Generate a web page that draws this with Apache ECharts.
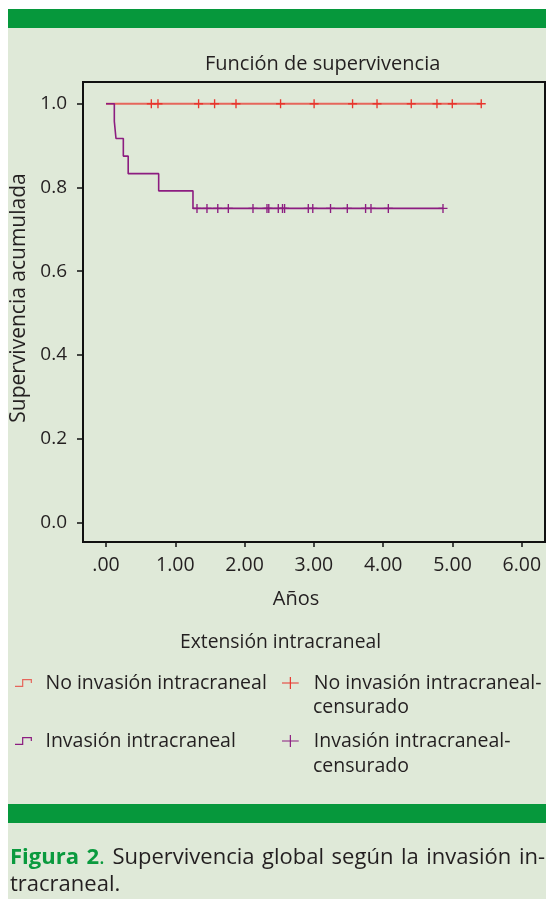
<!DOCTYPE html>
<html><head><meta charset="utf-8">
<script src="https://cdn.jsdelivr.net/npm/echarts@6/dist/echarts.min.js"></script>
<style>html,body{margin:0;padding:0;background:#fff}#c{width:546px;height:899px}</style>
</head><body><div id="c"></div>
<script>
// ---- data ----
const xTicks = [0, 1, 2, 3, 4, 5, 6];
const xTickLabels = ['.00', '1.00', '2.00', '3.00', '4.00', '5.00', '6.00'];
const yTicks = [0, 0.2, 0.4, 0.6, 0.8, 1.0];
const yTickLabels = ['0.0', '0.2', '0.4', '0.6', '0.8', '1.0'];

const noInvStepX = [0, 5.415];
const noInvStepY = [1.0, 1.0];
const noInvCensX = [0.654, 0.750, 1.336, 1.567, 1.876, 2.519, 3.003, 3.558, 3.911, 4.405, 4.776, 4.997, 5.415];

const invStepX = [0, 0.120, 0.144, 0.250, 0.320, 0.760, 1.255, 4.863];
const invStepY = [1.0, 0.958, 0.917, 0.875, 0.833, 0.792, 0.750, 0.750];
const invCensX = [1.313, 1.457, 1.613, 1.765, 2.121, 2.323, 2.349, 2.486, 2.547, 2.577, 2.919, 2.984, 3.240, 3.482, 3.746, 3.824, 4.074, 4.863];

const seriesNames = ['No invasión intracraneal', 'No invasión intracraneal-censurado', 'Invasión intracraneal', 'Invasión intracraneal-censurado'];
const captionWords = [[['Figura', 'g']], [['2', 'g'], ['.', 'd']], [['Supervivencia', 't']], [['global', 't']], [['según', 't']], [['la', 't']], [['invasión', 't']], [['in-', 't']]];
const captionLine2 = 'tracraneal.';

// ---- helpers ----
function survAt(xs, ys, t) { let v = ys[0]; for (let i = 0; i < xs.length; i++) { if (xs[i] <= t) v = ys[i]; } return v; }
const pair = (xs, ys) => xs.map((x, i) => [x, ys[i]]);
const cens = (cx, xs, ys) => cx.map(t => [t, survAt(xs, ys, t)]);

const FONT = '"Open Sans"';
const TXT = '#231f20';
const GREEN_T = '#0a9a3e';
const RED_L = '#e6665b', RED_M = '#e8352c';
const PUR = '#8c1d80';
const PLUS = 'path://M4.25,0h1.5v4.25h4.25v1.5h-4.25v4.25h-1.5v-4.25h-4.25v-1.5h4.25z';
const PLUS_LEG = 'path://M0,5.5h17v1.2h-17z M7.9,0h1.2v12.2h-1.2z';
const STEP = 'path://M0,7.3h7.6v-7.3h10.6v4.4h-1.3v-3.1h-8v7.3h-8.9z';
const CAP_SIZE = 22;

// justify caption line 1 to the page width
const mctx = document.createElement('canvas').getContext('2d');
function tw(s, bold) { mctx.font = (bold ? 'bold ' : '') + CAP_SIZE + 'px "Open Sans"'; return mctx.measureText(s).width; }
const capTarget = 535;
let capSum = 0; captionWords.forEach(w => w.forEach(seg => capSum += tw(seg[0], seg[1] === 'g')));
const gapW = Math.max(4, (capTarget - capSum) / (captionWords.length - 1));
const capRich = captionWords.map((w, i) => (i ? '{s| }' : '') + w.map(seg => '{' + seg[1] + '|' + seg[0] + '}').join('')).join('');

const chart = echarts.init(document.getElementById('c'), null, {renderer: 'canvas'});
function legendAt(name, icon, color, left, top, iw, ih, padL, twoLine) {
  return {
    data: [{name: name, icon: icon, itemStyle: {color: color, borderWidth: 0}}],
    left: left, top: top, itemWidth: iw, itemHeight: ih, selectedMode: false,
    formatter: n => twoLine ? n.split('-')[0] + '-' : n,
    textStyle: {fontFamily: FONT, fontSize: 19.5, color: TXT, lineHeight: 22, padding: [0, 0, 0, padL]}
  };
}
chart.setOption({
  backgroundColor: '#fff',
  animation: false,
  title: [
    {text: 'Función de supervivencia', left: 200, top: 49,
     textStyle: {fontFamily: FONT, fontSize: 20, fontWeight: 'normal', color: TXT}},
    {text: 'Extensión intracraneal', left: 175, top: 628,
     textStyle: {fontFamily: FONT, fontSize: 19.3, fontWeight: 'normal', color: TXT}}
  ],
  graphic: [
    {type: 'rect', z: -10, shape: {x: 8, y: 9, width: 538, height: 890}, style: {fill: '#dfe9d8'}},
    {type: 'rect', z: -9, shape: {x: 8, y: 9, width: 538, height: 19}, style: {fill: '#06983c'}},
    {type: 'rect', z: -9, shape: {x: 8, y: 804, width: 538, height: 19}, style: {fill: '#06983c'}},
    {type: 'text', left: 313, top: 697, style: {text: 'censurado', fontFamily: FONT, fontSize: 19.5, fill: TXT}},
    {type: 'text', left: 313, top: 756, style: {text: 'censurado', fontFamily: FONT, fontSize: 19.5, fill: TXT}},
    {type: 'text', left: 10, top: 847, style: {
      text: capRich,
      rich: {g: {fontFamily: FONT, fontSize: CAP_SIZE, fontWeight: 'bold', fill: GREEN_T},
             d: {fontFamily: FONT, fontSize: CAP_SIZE, fill: GREEN_T},
             t: {fontFamily: FONT, fontSize: CAP_SIZE, fill: TXT},
             s: {fontFamily: FONT, fontSize: CAP_SIZE, width: gapW}}}},
    {type: 'text', left: 10, top: 874, style: {text: captionLine2, fontFamily: FONT, fontSize: CAP_SIZE, fill: TXT}}
  ],
  legend: [
    legendAt(seriesNames[0], STEP, RED_L, 10, 667, 18, 8, 8, false),
    legendAt(seriesNames[1], PLUS_LEG, RED_M, 277, 667, 17, 12, 10, true),
    legendAt(seriesNames[2], STEP, PUR, 10, 725, 18, 8, 8, false),
    legendAt(seriesNames[3], PLUS_LEG, PUR, 277, 725, 17, 12, 10, true)
  ],
  grid: {left: 83, right: 1, top: 82, bottom: 357, outerBoundsMode: 'none', containLabel: false,
         show: true, borderColor: '#111', borderWidth: 2, backgroundColor: 'transparent'},
  xAxis: {
    type: 'value', min: -0.332, max: 6.335,
    name: 'Años', nameLocation: 'middle', nameGap: 47,
    nameTextStyle: {fontFamily: FONT, fontSize: 20, color: TXT, padding: [0, 36, 0, 0]},
    axisLine: {show: true, onZero: false, lineStyle: {color: '#111', width: 2}},
    axisTick: {show: true, customValues: xTicks, length: 5, lineStyle: {color: '#111', width: 1.5}},
    axisLabel: {customValues: xTicks, margin: 13, fontFamily: FONT, fontSize: 19.5, color: TXT,
      formatter: v => xTickLabels[xTicks.indexOf(Math.round(v))]},
    splitLine: {show: false}
  },
  yAxis: {
    type: 'value', min: -0.047, max: 1.052,
    name: 'Supervivencia acumulada', nameLocation: 'middle', nameGap: 52, nameRotate: 90,
    nameTextStyle: {fontFamily: FONT, fontSize: 21, color: TXT, padding: [0, 0, 0, 28]},
    axisLine: {show: true, onZero: false, lineStyle: {color: '#111', width: 2}},
    axisTick: {show: true, customValues: yTicks, length: 6, lineStyle: {color: '#111', width: 1.5}},
    axisLabel: {customValues: yTicks, margin: 16, fontFamily: FONT, fontSize: 19, color: TXT,
      formatter: v => yTickLabels[yTicks.indexOf(Math.round(v * 10) / 10)]},
    splitLine: {show: false}
  },
  series: [
    {name: seriesNames[0], type: 'line', step: 'end', data: pair(noInvStepX, noInvStepY), showSymbol: false,
     lineStyle: {color: RED_L, width: 2}, itemStyle: {color: RED_L}, z: 2},
    {name: seriesNames[1], type: 'scatter', data: cens(noInvCensX, noInvStepX, noInvStepY), symbol: PLUS, symbolSize: 9,
     itemStyle: {color: RED_M, opacity: 1}, z: 3},
    {name: seriesNames[2], type: 'line', step: 'end', data: pair(invStepX, invStepY), showSymbol: false,
     lineStyle: {color: PUR, width: 1.6}, itemStyle: {color: PUR}, z: 2},
    {name: seriesNames[3], type: 'scatter', data: cens(invCensX, invStepX, invStepY), symbol: PLUS, symbolSize: 9,
     itemStyle: {color: PUR, opacity: 1}, z: 3}
  ]
});
</script></body></html>
